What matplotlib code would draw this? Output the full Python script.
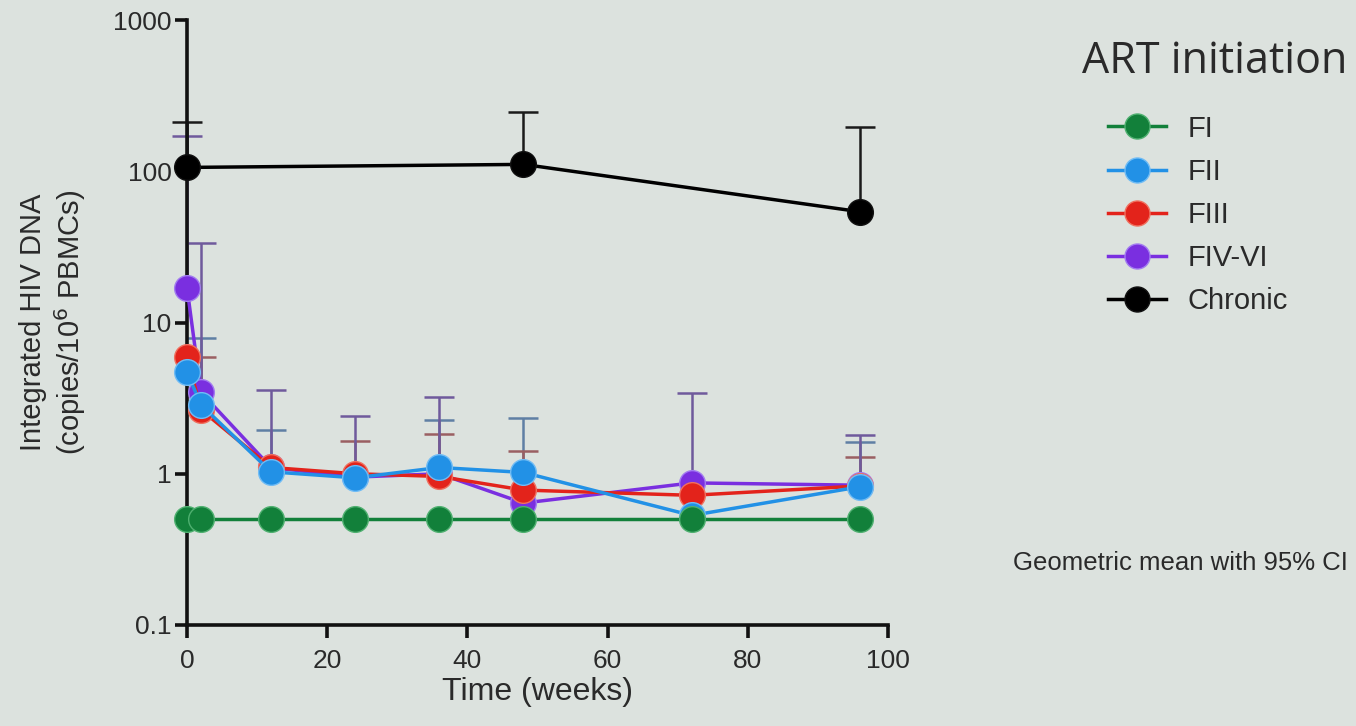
import numpy as np
import matplotlib
matplotlib.use("Agg")
import matplotlib.pyplot as plt
from matplotlib.lines import Line2D

weeks = [0, 2, 12, 24, 36, 48, 72, 96]
chronic_weeks = [0, 48, 96]

fi = [0.5, 0.5, 0.5, 0.5, 0.5, 0.5, 0.5, 0.5]
fii = [4.7, 2.85, 1.03, 0.94, 1.1, 1.02, 0.53, 0.82]
fiii = [5.9, 2.65, 1.1, 1.0, 0.96, 0.78, 0.72, 0.83]
fiv_vi = [17.0, 3.45, 1.1, 0.95, 1.0, 0.64, 0.87, 0.84]
chronic = [106, 111, 54]

fi_upper = [np.nan] * 8
fii_upper = [np.nan, 7.9, 1.96, np.nan, 2.28, 2.35, np.nan, 1.63]
fiii_upper = [np.nan, 5.95, np.nan, 1.65, 1.84, 1.42, np.nan, 1.3]
fiv_vi_upper = [170, 33.8, 3.6, 2.4, 3.2, np.nan, 3.44, 1.81]
chronic_upper = [211, 245, 195]

labels = ["FI", "FII", "FIII", "FIV-VI", "Chronic"]
colors = ["#12803a", "#2291e6", "#e3231b", "#7a2fe0", "#000000"]
halo = ["#4fb070", "#70bcf5", "#f0705f", "#a27cf0", "#111111"]
err_colors = ["#3f6e4c", "#5f7fa4", "#9a5f62", "#6f5a9c", "#1a1a1a"]

plt.rcParams['font.family'] = ['Liberation Sans', 'DejaVu Sans']
txt = "#2a2a2a"
bg = "#dce2de"
fig = plt.figure(figsize=(13.56, 7.26), dpi=100, facecolor=bg)
ax = fig.add_axes([187/1356, 1-625/726, (888-187)/1356, (625-20)/726])
ax.set_facecolor(bg)

series = [
    (weeks, fi, fi_upper),
    (weeks, fii, fii_upper),
    (weeks, fiii, fiii_upper),
    (weeks, fiv_vi, fiv_vi_upper),
    (chronic_weeks, chronic, chronic_upper),
]
zorders = [6, 5, 4, 3, 7]
for (x, y, up), ec in zip(series, err_colors):
    x = np.array(x, float)
    y = np.array(y, float)
    up = np.array(up, float)
    m = ~np.isnan(up)
    if m.any():
        ax.vlines(x[m], y[m], up[m], colors=ec, lw=1.8, zorder=2, clip_on=False)
        ax.plot(x[m], up[m], ls="none", marker="_", markersize=22,
                markeredgewidth=1.8, color=ec, zorder=2, clip_on=False)

order = [3, 2, 1, 0, 4]
for i in order:
    x, y, up = series[i]
    ax.plot(x, y, "-o", color=colors[i], lw=2.5, markersize=18.5,
            markeredgecolor=halo[i], markeredgewidth=1.0,
            zorder=zorders[i], clip_on=False)

ax.set_yscale("log")
ax.set_ylim(0.1, 1000)
ax.set_xlim(0, 100)
ax.set_yticks([0.1, 1, 10, 100, 1000])
ax.set_yticklabels(["0.1", "1", "10", "100", "1000"])
ax.minorticks_off()
ax.set_xticks([0, 20, 40, 60, 80, 100])
for s in ["top", "right"]:
    ax.spines[s].set_visible(False)
for s in ["left", "bottom"]:
    ax.spines[s].set_linewidth(2.6)
    ax.spines[s].set_color("#111111")
ax.tick_params(axis="both", width=2.6, length=9, labelsize=19,
               color="#111111", labelcolor=txt)
ax.tick_params(axis="y", pad=2)
ax.tick_params(axis="x", pad=8)

ax.set_xlabel("Time (weeks)", fontsize=23, color=txt, labelpad=3)
fig.text(33/1356, 1-322/726, "Integrated HIV DNA", rotation=90, fontsize=21,
         ha="center", va="center", color=txt)
fig.text(70/1356, 1-322/726, "(copies/10$^{6}$ PBMCs)", rotation=90, fontsize=21,
         ha="center", va="center", color=txt)

fig.text(1082/1356, 1-62/726, "ART initiation", fontsize=31, ha="left",
         va="center", color=txt, family="Open Sans")
handles = [Line2D([0], [0], color=c, marker="o", markersize=18, lw=2.5,
                  markeredgecolor=h, markeredgewidth=1.0)
           for c, h in zip(colors, halo)]
leg = fig.legend(handles, labels, loc="upper left",
                 bbox_to_anchor=(1093/1356, 1-100/726), frameon=False,
                 fontsize=21, handlelength=2.0, labelspacing=0.52,
                 handletextpad=0.75, borderpad=0)
for t in leg.get_texts():
    t.set_color(txt)

fig.text(1348/1356, 1-563/726, "Geometric mean with 95% CI", fontsize=18.5,
         ha="right", va="center", color=txt)

fig.savefig("out.png", dpi=100, facecolor=bg)
